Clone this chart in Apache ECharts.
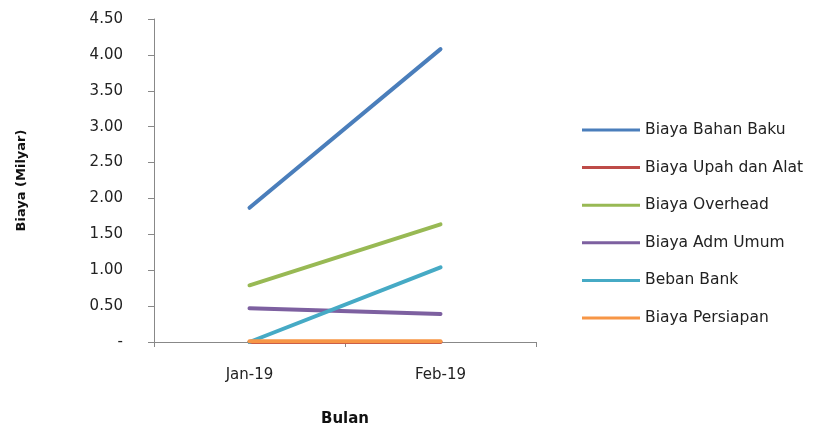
<!DOCTYPE html>
<html>
<head>
<meta charset="utf-8">
<script src="https://cdn.jsdelivr.net/npm/echarts@6/dist/echarts.min.js"></script>
<style>
  html, body { margin: 0; padding: 0; background: #fff; }
  #chart { width: 818px; height: 426px; }
</style>
</head>
<body>
<div id="chart"></div>
<script>
// Monthly cost breakdown (billions of rupiah)
const months = ['Jan-19', 'Feb-19'];
const bahanBaku = [1.87, 4.08];
const upahAlat = [0.0, 0.0];
const overhead = [0.79, 1.64];
const admUmum = [0.47, 0.39];
const bebanBank = [0.0, 1.04];
const persiapan = [0.01, 0.01];
const yTicks = [0, 0.5, 1, 1.5, 2, 2.5, 3, 3.5, 4, 4.5];

const seriesDefs = [
  { name: 'Biaya Bahan Baku', data: bahanBaku, color: '#4A7EBB' },
  { name: 'Biaya Upah dan Alat', data: upahAlat, color: '#BE4B48' },
  { name: 'Biaya Overhead', data: overhead, color: '#98B954' },
  { name: 'Biaya Adm Umum', data: admUmum, color: '#7D60A0' },
  { name: 'Beban Bank', data: bebanBank, color: '#46AAC5' },
  { name: 'Biaya Persiapan', data: persiapan, color: '#F79646' }
];

const font = '"DejaVu Sans", sans-serif';
const chart = echarts.init(document.getElementById('chart'), null, { renderer: 'canvas' });

chart.setOption({
  animation: false,
  backgroundColor: '#ffffff',
  grid: { left: 154, top: 19, width: 382, height: 323, containLabel: false, outerBoundsMode: 'none' },
  legend: {
    orient: 'vertical',
    left: 582,
    top: 122,
    padding: 0,
    itemWidth: 58,
    itemHeight: 3,
    itemGap: 21.6,
    icon: 'rect',
    textStyle: { fontFamily: font, fontSize: 15.5, lineHeight: 16, color: '#222' },
    data: seriesDefs.map(s => s.name)
  },
  xAxis: {
    type: 'category',
    data: months,
    boundaryGap: true,
    name: 'Bulan',
    nameLocation: 'middle',
    nameGap: 70,
    nameTextStyle: { fontFamily: font, fontSize: 15, fontWeight: 'bold', color: '#111', verticalAlign: 'top' },
    axisLine: { lineStyle: { color: '#888', width: 1 } },
    axisTick: { show: true, length: 5, lineStyle: { color: '#888' } },
    axisLabel: { fontFamily: font, fontSize: 15, color: '#222', margin: 26 }
  },
  yAxis: {
    type: 'value',
    min: 0,
    max: 4.5,
    interval: 0.5,
    name: 'Biaya (Milyar)',
    nameLocation: 'middle',
    nameGap: 126,
    nameRotate: 90,
    nameTextStyle: { fontFamily: font, fontSize: 13, fontWeight: 'bold', color: '#111' },
    axisLine: { show: true, lineStyle: { color: '#888', width: 1 } },
    axisTick: { show: true, length: 6, lineStyle: { color: '#888' } },
    splitLine: { show: false },
    axisLabel: {
      fontFamily: font, fontSize: 15, color: '#222', margin: 31,
      formatter: v => (yTicks.includes(v) ? (v === 0 ? '-' : v.toFixed(2)) : '')
    }
  },
  series: seriesDefs.map(s => ({
    name: s.name,
    type: 'line',
    data: s.data,
    symbol: 'none',
    color: s.color,
    lineStyle: { width: 4, color: s.color, cap: 'round' }
  }))
});
</script>
</body>
</html>
